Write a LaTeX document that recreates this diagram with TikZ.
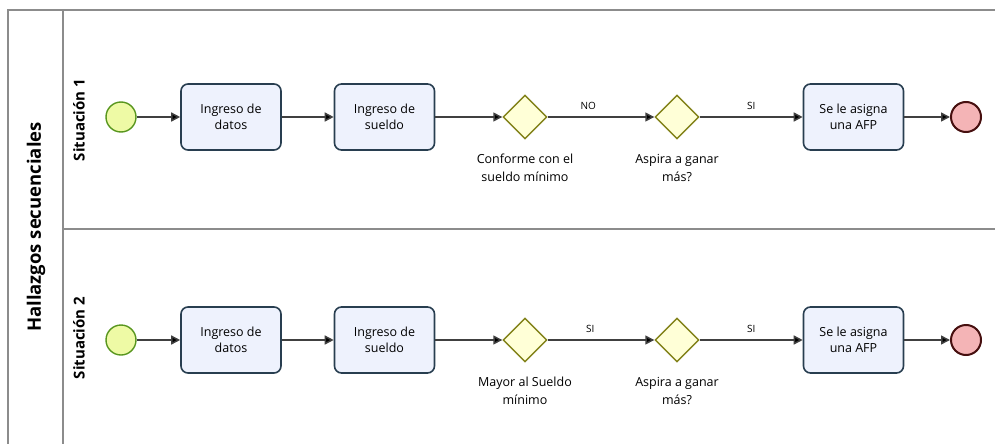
\documentclass[tikz,border=0pt]{standalone}
\usepackage{fontspec}
\setmainfont{Open Sans}
\usetikzlibrary{shapes.geometric,arrows.meta,positioning}
\definecolor{startfill}{RGB}{238,250,165}
\definecolor{startline}{RGB}{88,150,30}
\definecolor{endfill}{RGB}{244,180,182}
\definecolor{endline}{RGB}{70,15,15}
\definecolor{taskfill}{RGB}{238,242,253}
\definecolor{taskline}{RGB}{40,62,80}
\definecolor{gatefill}{RGB}{255,255,215}
\definecolor{gateline}{RGB}{130,130,25}
\definecolor{poolline}{RGB}{140,140,140}

\tikzset{
  evstart/.style={circle,draw=startline,fill=startfill,line width=1.4pt,minimum size=30pt,inner sep=0pt},
  evend/.style={circle,draw=endline,fill=endfill,line width=2pt,minimum size=30pt,inner sep=0pt},
  task/.style={rectangle,rounded corners=7pt,draw=taskline,fill=taskfill,line width=1.6pt,
    minimum width=100pt,minimum height=66pt,align=center,font=\fontsize{12.5}{16.5}\selectfont},
  gate/.style={diamond,draw=gateline,fill=gatefill,line width=1.4pt,minimum size=44pt,inner sep=0pt},
  gatelbl/.style={align=center,font=\fontsize{12.5}{18}\selectfont},
  flow/.style={draw=black!75,line width=1.5pt,-{Triangle[length=9pt,width=9pt,fill=black]}},
  flowlbl/.style={above=3pt,font=\fontsize{10}{12}\selectfont},
  lanelbl/.style={rotate=90,font=\bfseries\fontsize{15}{18}\selectfont},
}

\begin{document}
\begin{tikzpicture}[x=1pt,y=-1pt]
  \useasboundingbox (0,0) rectangle (995,444);
  % pool and lanes
  \draw[poolline,line width=1.6pt] (8,444) -- (8,10) -- (995,10);
  \draw[poolline,line width=1.6pt] (63,10) -- (63,444);
  \draw[poolline,line width=1.6pt] (63,229) -- (995,229);
  \node[lanelbl,font=\bfseries\fontsize{18.5}{20}\selectfont] (pool) at (36,227) {Hallazgos secuenciales};
  \node[lanelbl] (lane1) at (79,120) {Situación 1};
  \node[lanelbl] (lane2) at (79,338) {Situación 2};

  % situacion 1
  \node[evstart] (s1) at (121,117) {};
  \node[task] (t11) at (231,117) {Ingreso de\\datos};
  \node[task] (t12) at (384.5,117) {Ingreso de\\sueldo};
  \node[gate] (g11) at (525,117) {};
  \node[gate] (g12) at (677,117) {};
  \node[task] (t13) at (853.5,117) {Se le asigna\\una AFP};
  \node[evend] (e1) at (966,117) {};
  \node[gatelbl] (l11) at (525,168) {Conforme con el\\sueldo mínimo};
  \node[gatelbl] (l12) at (677,168) {Aspira a ganar\\más?};
  \draw[flow] (s1) -- (t11);
  \draw[flow] (t11) -- (t12);
  \draw[flow] (t12) -- (g11);
  \draw[flow] (g11) -- node[flowlbl,pos=0.38] {NO} (g12);
  \draw[flow] (g12) -- node[flowlbl] {SI} (t13);
  \draw[flow] (t13) -- (e1);

  % situacion 2
  \node[evstart] (s2) at (121,340) {};
  \node[task] (t21) at (231,340) {Ingreso de\\datos};
  \node[task] (t22) at (384.5,340) {Ingreso de\\sueldo};
  \node[gate] (g21) at (525,340) {};
  \node[gate] (g22) at (677,340) {};
  \node[task] (t23) at (853.5,340) {Se le asigna\\una AFP};
  \node[evend] (e2) at (966,340) {};
  \node[gatelbl] (l21) at (525,391) {Mayor al Sueldo\\mínimo};
  \node[gatelbl] (l22) at (677,391) {Aspira a ganar\\más?};
  \draw[flow] (s2) -- (t21);
  \draw[flow] (t21) -- (t22);
  \draw[flow] (t22) -- (g21);
  \draw[flow] (g21) -- node[flowlbl,pos=0.4] {SI} (g22);
  \draw[flow] (g22) -- node[flowlbl] {SI} (t23);
  \draw[flow] (t23) -- (e2);
\end{tikzpicture}
\end{document}
